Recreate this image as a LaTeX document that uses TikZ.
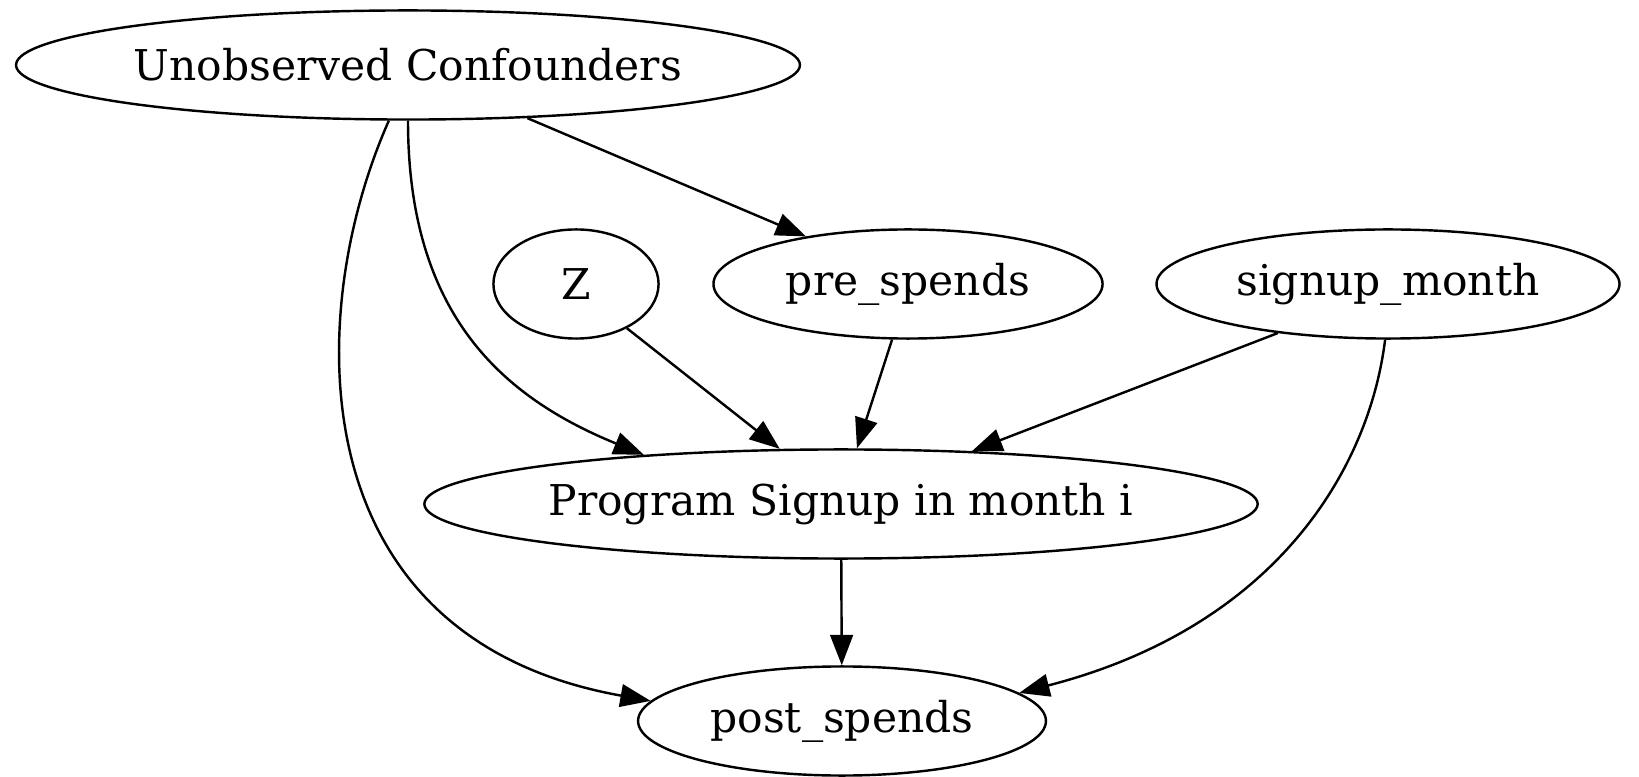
\documentclass[tikz,border=0pt]{standalone}
\usepackage{fontspec}
\setmainfont{DejaVu Serif}
\usetikzlibrary{arrows.meta, positioning, shapes.geometric}

\begin{document}
\begin{tikzpicture}[x=0.33pt, y=-0.33pt,
        var/.style={draw, ellipse, line width=0.8pt, inner sep=0pt,
            minimum height=36pt, font=\fontsize{14}{16}\selectfont},
        edge/.style={line width=0.8pt, -{Triangle[length=10pt, width=7.5pt]}}]
    \useasboundingbox (0,0) rectangle (1639,777);

    % 变量节点
    \node[var, minimum width=258.7pt] (uc) at (408,65) {Unobserved Confounders};
    \node[var, minimum width=54.5pt] (z) at (576,284) {Z};
    \node[var, minimum width=128.4pt] (pre) at (908,284) {pre\_spends};
    \node[var, minimum width=152.8pt] (month) at (1388,284) {signup\_month};
    \node[var, minimum width=275pt] (signup) at (841,504) {Program Signup in month i};
    \node[var, minimum width=134.6pt] (post) at (842,721) {post\_spends};

    % 混杂因素的影响
    \draw[edge] (uc.-109) .. controls (303,314) and (298,638) .. (post.174);
    \draw[edge] (uc.south) .. controls (408,314) and (502,397) .. (signup.166);
    \draw[edge] (uc.-24) -- (pre.155);

    % 指向处理变量
    \draw[edge] (z.-41) -- (signup.138);
    \draw[edge] (pre.-106) -- (signup.74);
    \draw[edge] (month.-156) -- (signup.22);

    % 指向结果变量
    \draw[edge] (month.-93) .. controls (1369,470) and (1275,627) .. (post.9);
    \draw[edge] (signup) -- (post);
\end{tikzpicture}
\end{document}
